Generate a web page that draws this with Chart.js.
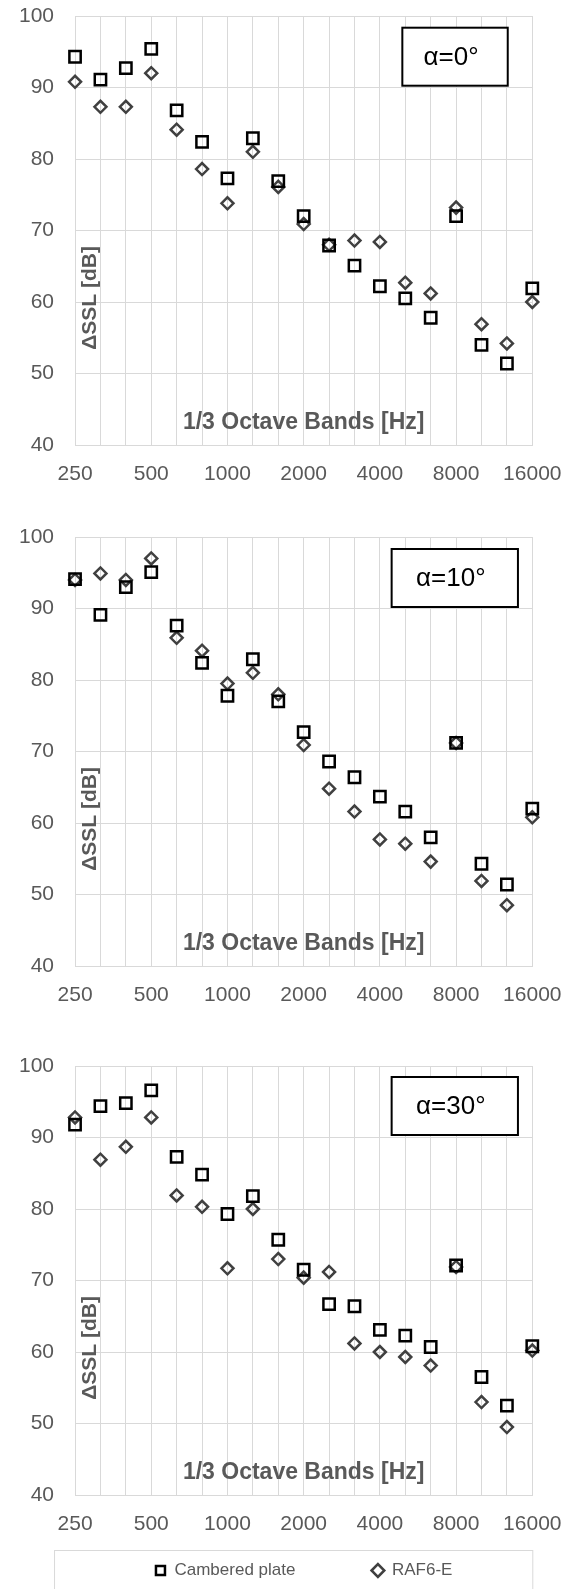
<!DOCTYPE html>
<html>
<head>
<meta charset="utf-8">
<script src="https://cdn.jsdelivr.net/npm/chart.js@4/dist/chart.umd.min.js"></script>
<style>
  body { margin: 0; background: #fff; }
  #wrap { position: relative; width: 574px; height: 1589px; overflow: hidden; }
  #wrap canvas { position: absolute; left: 0; }
</style>
</head>
<body>
<div id="wrap">
  <canvas id="c0" width="574" height="500" style="top:0px"></canvas>
  <canvas id="c10" width="574" height="500" style="top:521px"></canvas>
  <canvas id="c30" width="574" height="539" style="top:1050px"></canvas>
</div>
<script>
// 1/3 octave band centres
const bands = ['250', '315', '400', '500', '630', '800', '1000', '1250', '1600', '2000',
  '2500', '3150', '4000', '5000', '6300', '8000', '10000', '12500', '16000'];
const yTicks = [40, 50, 60, 70, 80, 90, 100];
const seriesNames = ['Cambered plate', 'RAF6-E'];

// alpha = 0 deg
const cambered0 = [94.3, 91.1, 92.7, 95.4, 86.8, 82.4, 77.3, 82.9, 76.9, 72.0, 67.9, 65.1, 62.2, 60.5, 57.8, 72.0, 54.0, 51.4, 61.9];
const raf0 = [90.8, 87.3, 87.3, 92.0, 84.1, 78.6, 73.8, 81.0, 76.1, 70.9, 68.0, 68.6, 68.4, 62.7, 61.2, 73.2, 56.9, 54.2, 60.0];
// alpha = 10 deg
const cambered10 = [94.1, 89.1, 93.0, 95.1, 87.6, 82.4, 77.8, 82.9, 77.0, 72.7, 68.6, 66.4, 63.7, 61.6, 58.0, 71.2, 54.3, 51.4, 62.0];
const raf10 = [94.0, 94.9, 94.0, 97.0, 85.9, 84.1, 79.5, 81.0, 78.0, 70.9, 64.8, 61.6, 57.7, 57.1, 54.6, 71.2, 51.9, 48.5, 60.8];
// alpha = 30 deg
const cambered30 = [91.8, 94.4, 94.8, 96.6, 87.3, 84.8, 79.3, 81.8, 75.7, 71.5, 66.7, 66.4, 63.1, 62.3, 60.7, 72.1, 56.5, 52.5, 60.8];
const raf30 = [92.8, 86.9, 88.7, 92.8, 81.9, 80.3, 71.7, 80.0, 73.0, 70.4, 71.2, 61.2, 60.0, 59.3, 58.1, 71.9, 53.0, 49.5, 60.2];

const FONT = '"Liberation Sans", Arial, sans-serif';
const GRID = '#d9d9d9';
const GREY = '#595959';
const NONE = 'rgba(0,0,0,0)';

Chart.defaults.font.family = FONT;
Chart.defaults.color = GREY;

// axis titles sit inside the plot, plus the angle box and legend frame
const panelDecor = {
  id: 'panelDecor',
  beforeDatasetsDraw(chart, args, opts) {
    const ctx = chart.ctx, ca = chart.chartArea;
    ctx.save();
    ctx.fillStyle = GREY;
    ctx.textAlign = 'center';
    ctx.textBaseline = 'middle';
    ctx.font = 'bold 23px ' + FONT;
    ctx.fillText('1/3 Octave Bands [Hz]', (ca.left + ca.right) / 2, ca.bottom - 22.5);
    ctx.translate(ca.left + 15, ca.top + 282);
    ctx.rotate(-Math.PI / 2);
    ctx.font = 'bold 21px ' + FONT;
    ctx.fillText('\u0394SSL [dB]', 0, 0);
    ctx.restore();
  },
  afterDraw(chart, args, opts) {
    const ctx = chart.ctx, ca = chart.chartArea;
    ctx.save();
    const b = opts.box;
    const x = ca.left + b.dx, y = ca.top + b.dy;
    ctx.fillStyle = '#fff';
    ctx.fillRect(x, y, b.w, b.h);
    ctx.strokeStyle = '#000';
    ctx.lineWidth = 2;
    ctx.strokeRect(x, y, b.w, b.h);
    ctx.fillStyle = '#000';
    ctx.font = '26px ' + FONT;
    ctx.textAlign = 'center';
    ctx.textBaseline = 'middle';
    ctx.fillText(opts.label, x + b.w / 2 - 4, y + b.h / 2 + 1);
    if (opts.legendFrame) {
      ctx.strokeStyle = GRID;
      ctx.lineWidth = 1;
      ctx.strokeRect(ca.left - 20.5, ca.bottom + 55.5, ca.right - ca.left + 21, 60);
    }
    ctx.restore();
  }
};

function makePanel(id, label, camb, raf, box, withLegend) {
  return new Chart(document.getElementById(id), {
    type: 'line',
    data: {
      labels: bands,
      datasets: [
        { label: seriesNames[0], data: camb, showLine: false, pointStyle: 'rect', pointRadius: 8,
          pointHoverRadius: 8, borderColor: '#000', backgroundColor: NONE, borderWidth: 2.5 },
        { label: seriesNames[1], data: raf, showLine: false, pointStyle: 'rectRot', pointRadius: 6,
          pointHoverRadius: 6, borderColor: '#404040', backgroundColor: NONE, borderWidth: 2.5 }
      ]
    },
    options: {
      responsive: false,
      animation: false,
      layout: { padding: { left: 19, right: 41.7, top: 16, bottom: withLegend ? 0 : 12.8 } },
      scales: {
        x: {
          type: 'category',
          offset: false,
          grid: { color: GRID, tickLength: 17, tickColor: NONE, offset: false },
          border: { color: GRID },
          ticks: {
            autoSkip: false, maxRotation: 0, padding: 0,
            font: { size: 21 }, color: GREY,
            callback: (v, i) => (i % 3 === 0 ? bands[i] : '')
          }
        },
        y: {
          min: yTicks[0], max: yTicks[yTicks.length - 1],
          afterBuildTicks: axis => { axis.ticks = yTicks.map(v => ({ value: v })); },
          grid: { color: GRID, tickLength: 21, tickColor: NONE },
          border: { color: GRID },
          ticks: { padding: 0, font: { size: 21 }, color: GREY }
        }
      },
      plugins: {
        tooltip: { enabled: false },
        legend: {
          display: withLegend,
          position: 'bottom',
          fullSize: false,
          title: { display: true, text: '', font: { size: 10 }, padding: { top: -64.2, bottom: 0 } },
          labels: { usePointStyle: true, boxWidth: 11, boxHeight: 9, padding: 77,
            font: { size: 17 }, color: GREY }
        },
        panelDecor: { label: label, box: box, legendFrame: withLegend }
      }
    },
    plugins: [panelDecor]
  });
}

makePanel('c0', '\u03b1=0\u00b0', cambered0, raf0, { dx: 327.3, dy: 11.7, w: 105.4, h: 58 }, false);
makePanel('c10', '\u03b1=10\u00b0', cambered10, raf10, { dx: 316.6, dy: 12, w: 126.3, h: 58 }, false);
makePanel('c30', '\u03b1=30\u00b0', cambered30, raf30, { dx: 316.6, dy: 11, w: 126.3, h: 58 }, true);
</script>
</body>
</html>
